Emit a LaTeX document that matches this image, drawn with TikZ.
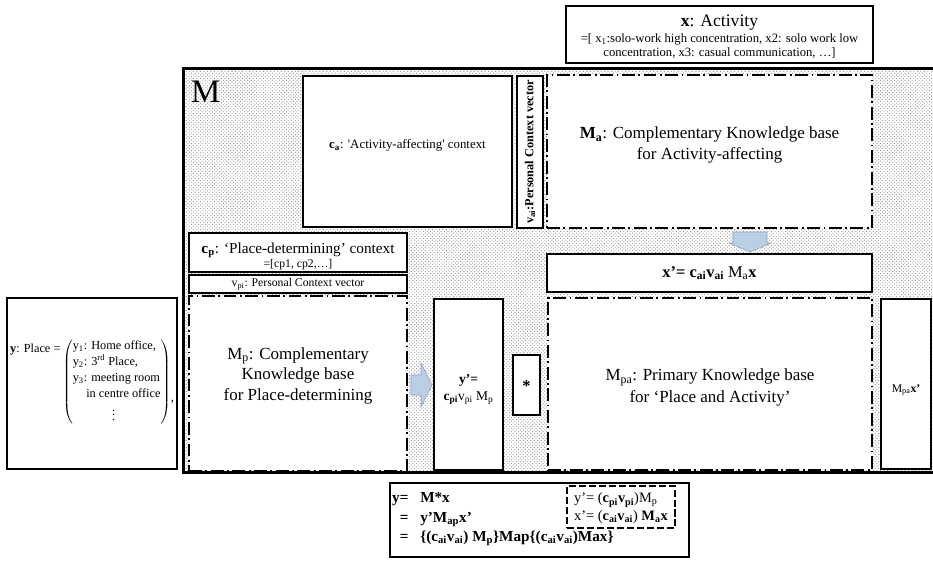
\documentclass[tikz,border=0pt]{standalone}
\usepackage{fontspec}
\setmainfont{Liberation Serif}
\usepackage{tikz}
\usetikzlibrary{fit,patterns}
\definecolor{arrowblue}{RGB}{186,206,228}
\definecolor{arrowedge}{RGB}{140,162,192}
\definecolor{dotgray}{RGB}{140,140,140}

\tikzset{
  box/.style={draw,fill=white,inner sep=0pt,line width=1.1pt},
  thickbox/.style={box,line width=1.7pt},
  kbbox/.style={box,line width=1.7pt,dash pattern=on 11pt off 3pt on 1.5pt off 3pt},
  blockarrow/.style={draw=arrowedge,fill=arrowblue,line width=0.5pt,line join=miter},
  bigfont/.style={font=\fontsize{14.5}{17.5}\selectfont},
  lbl/.style={inner sep=0pt,align=center}
}

\begin{document}
\begin{tikzpicture}[x=0.03cm,y=-0.03cm]
\useasboundingbox (0,0) rectangle (933,560);

\node[thickbox,fit={(566,6) (873,63)}] (act) {};
\node[lbl] (acttext) at ([yshift=-2pt]act.center)
  {{\fontsize{15}{17}\selectfont\textbf{x}: Activity}\\[2pt]
  {\fontsize{10.8}{13}\selectfont =[ x\textsubscript{1}:solo-work high concentration, x2: solo work low}\\
  {\fontsize{10.8}{13}\selectfont concentration, x3: casual communication, …]}};

\node[fit={(184,69) (933,472)},inner sep=0pt,fill=white,
  postaction={pattern=crosshatch dots,pattern color=dotgray}] (M) {};
\draw[line width=2.4pt] (M.north east) -- (M.north west) -- (M.south west) -- (M.south east);
\node[font=\fontsize{28}{30}\selectfont,anchor=base west,inner sep=0pt] (Mlabel) at (191,102) {M};

\node[box,fit={(303,76) (512,227)}] (ca) {};
\node[lbl,font=\fontsize{11}{13}\selectfont] (catext) at ([yshift=5.5pt]ca.center)
  {\textbf{c\textsubscript{a}}: \textquotesingle Activity-affecting\textquotesingle{} context};
\node[box,fit={(517,76) (543,228)}] (vai) {};
\node[rotate=90,inner sep=0pt,font=\bfseries\fontsize{10.5}{12}\selectfont] (vaitext) at (vai.center)
  {v\textsubscript{ai}:Personal Context vector};
\node[kbbox,fit={(547,75) (872,228)}] (Ma) {};
\node[lbl,bigfont] (Matext) at ([yshift=5.5pt]Ma.center)
  {\textbf{M\textsubscript{a}}: Complementary Knowledge base\\for Activity-affecting};

\draw[blockarrow,shift={(750,232)}] (-17,0) -- (17,0) -- (17,11) -- (21,11) -- (0,20)
  -- (-21,11) -- (-17,11) -- cycle;

\node[thickbox,fit={(547,254) (872,292)}] (xp) {};
\node[lbl,font=\fontsize{14}{16}\selectfont] (xptext) at (xp.center)
  {\textbf{x'= c\textsubscript{ai}v\textsubscript{ai}} M\textsubscript{a}\textbf{x}};

\node[thickbox,fit={(189,233) (407,272)}] (cp) {};
\node[lbl] (cptext) at ([yshift=-3pt]cp.center)
  {{\fontsize{13}{14}\selectfont\textbf{c\textsubscript{p}}: `Place-determining' context}\\
  {\fontsize{10}{11.5}\selectfont =[cp1, cp2,…]}};
\node[box,line width=0.9pt,fit={(189,275) (407,293)}] (vpi) {};
\node[lbl,font=\fontsize{10}{10}\selectfont] (vpitext) at (vpi.center)
  {v\textsubscript{pi}: Personal Context vector};
\node[kbbox,fit={(189,296) (407,471)}] (Mp) {};
\node[lbl,bigfont] (Mptext) at ([yshift=6.8pt]Mp.center)
  {M\textsubscript{p}: Complementary\\Knowledge base\\for Place-determining};

\node[thickbox,fit={(7,298) (177,469)}] (ybox) {};
\node[lbl,font=\fontsize{10.5}{13.8}\selectfont] (ytext) at ([yshift=1.5pt]ybox.center)
  {\raisebox{27.6pt}{\textbf{y}: Place =}\,$\left(\begin{tabular}{@{}l@{}}y\textsubscript{1}: Home office,\\
  y\textsubscript{2}: 3\textsuperscript{rd} Place,\\
  y\textsubscript{3}: meeting room\\
  \hspace{1.1em}in centre office\\
  \hspace{3.2em}$\vdots$\end{tabular}\right)$\raisebox{-13.8pt}{,}};

\draw[blockarrow,shift={(411,385)}] (0,-10) -- (10,-10) -- (10,-22) -- (21,0) -- (10,22)
  -- (10,10) -- (0,10) -- cycle;

\node[box,fit={(434,299) (503,470)}] (yp) {};
\node[lbl,font=\fontsize{11.5}{14.5}\selectfont] (yptext) at ([yshift=-4pt]yp.center)
  {\textbf{y'=}\\\textbf{c\textsubscript{pi}}v\textsubscript{pi} M\textsubscript{p}};
\node[box,line width=2.2pt,fit={(513,355) (540,415)}] (star) {};
\node[lbl,font=\bfseries\fontsize{14}{16}\selectfont] (startext) at ([yshift=-1pt]star.center) {*};
\node[kbbox,fit={(548,298) (872,470)}] (Mpa) {};
\node[lbl,font=\fontsize{14.5}{18.5}\selectfont] (Mpatext) at ([yshift=-3pt]Mpa.center)
  {M\textsubscript{pa}: Primary Knowledge base\\for `Place and Activity'};
\node[box,fit={(881,299) (931,469)}] (Mpax) {};
\node[lbl,font=\fontsize{10}{12}\selectfont] (Mpaxtext) at ([yshift=-5pt]Mpax.center)
  {M\textsubscript{pa}\textbf{x'}};

\node[thickbox,fit={(390,483) (689,557)}] (eq) {};
\node[anchor=north west,inner sep=0pt,font=\bfseries\fontsize{13}{16.5}\selectfont] (eqtext) at (392,489)
  {\begin{tabular}{@{}r@{\hspace{10pt}}l@{}}
  y= & M*x\\
  = & y'M\textsubscript{ap}x'\\
  = & \{(c\textsubscript{ai}v\textsubscript{ai}) M\textsubscript{p}\}Map\{(c\textsubscript{ai}v\textsubscript{ai})Max\}
  \end{tabular}};
\node[box,line width=1.5pt,dash pattern=on 6pt off 2.5pt,fit={(567,486) (675,528)}] (dashbox) {};
\node[lbl,align=left,font=\fontsize{12.3}{15}\selectfont] (dashtext) at ([yshift=-1pt]dashbox.center)
  {y'= (\textbf{c\textsubscript{pi}v\textsubscript{pi}})M\textsubscript{p}\\
  x'= (\textbf{c\textsubscript{ai}v\textsubscript{ai}}) \textbf{M\textsubscript{a}x}};
\end{tikzpicture}
\end{document}
